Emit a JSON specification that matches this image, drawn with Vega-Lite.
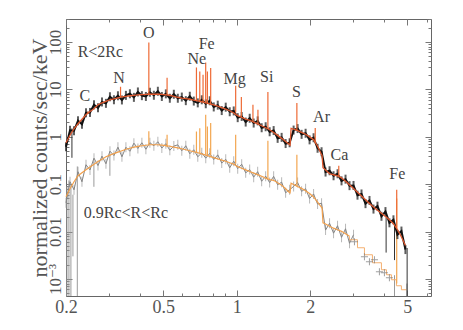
{
  "$schema": "https://vega.github.io/schema/vega-lite/v6.json",
  "width": 365,
  "height": 277,
  "autosize": "none",
  "padding": {"left": 66, "top": 19, "right": 32, "bottom": 34},
  "background": "white",
  "config": {
    "view": {"stroke": "#666", "strokeWidth": 1},
    "font": "Liberation Serif, DejaVu Serif, serif",
    "axis": {"domain": false, "grid": false, "tickColor": "#777", "labelColor": "#555", "labelFont": "Liberation Serif, DejaVu Serif, serif", "titleFont": "Liberation Serif, DejaVu Serif, serif", "labelOverlap": false, "labelFlush": false, "labelBound": false}
  },
  "datasets": {
    "up": [
      {"e":0.2000,"c":0.615},{"e":0.2077,"c":1.371},{"e":0.2157,"c":1.338},{"e":0.2240,"c":2.175},{"e":0.2325,"c":1.835},
      {"e":0.2415,"c":3.209},{"e":0.2508,"c":3.257},{"e":0.2604,"c":4.733},{"e":0.2704,"c":4.091},{"e":0.2808,"c":5.423},
      {"e":0.2915,"c":5.066},{"e":0.3027,"c":6.980},{"e":0.3143,"c":6.033},{"e":0.3264,"c":7.327},{"e":0.3389,"c":5.975},
      {"e":0.3519,"c":7.471},{"e":0.3654,"c":8.075},{"e":0.3794,"c":6.779},{"e":0.3940,"c":8.813},{"e":0.4091,"c":7.363},
      {"e":0.4248,"c":7.082},{"e":0.4411,"c":8.686},{"e":0.4580,"c":7.508},{"e":0.4756,"c":9.118},{"e":0.4938,"c":7.082},
      {"e":0.5128,"c":8.036},{"e":0.5324,"c":6.489},{"e":0.5529,"c":7.881},{"e":0.5741,"c":6.490},{"e":0.5961,"c":6.880},
      {"e":0.6190,"c":5.775},{"e":0.6427,"c":7.152},{"e":0.6674,"c":5.664},{"e":0.6930,"c":5.190},{"e":0.7196,"c":6.034},
      {"e":0.7472,"c":4.968},{"e":0.7759,"c":5.748},{"e":0.8056,"c":4.253},{"e":0.8366,"c":4.642},{"e":0.8687,"c":3.570},
      {"e":0.9020,"c":4.212},{"e":0.9366,"c":3.369},{"e":0.9725,"c":3.502},{"e":1.0098,"c":2.529},{"e":1.0485,"c":2.681},
      {"e":1.0888,"c":2.042},{"e":1.1306,"c":2.456},{"e":1.1740,"c":1.946},{"e":1.2190,"c":2.165},{"e":1.2658,"c":1.549},
      {"e":1.3144,"c":1.626},{"e":1.3648,"c":1.275},{"e":1.4172,"c":1.351},{"e":1.4716,"c":0.925},{"e":1.5281,"c":0.971},
      {"e":1.5867,"c":0.719},{"e":1.6476,"c":0.747},{"e":1.7108,"c":1.385},{"e":1.7765,"c":1.490},{"e":1.8447,"c":1.124},
      {"e":1.9155,"c":1.185},{"e":1.9890,"c":0.860},{"e":2.0653,"c":0.953},{"e":2.1446,"c":0.572},{"e":2.2269,"c":0.483},
      {"e":2.3124,"c":0.180},{"e":2.4011,"c":0.1917},{"e":2.4933,"c":0.1504},{"e":2.5890,"c":0.1658},{"e":2.6883,"c":0.1174},
      {"e":2.7915,"c":0.1275},{"e":2.8986,"c":0.0930},{"e":3.0099,"c":0.0939},{"e":3.1254,"c":0.0586},{"e":3.2453,"c":0.0621},
      {"e":3.3699,"c":0.0388},{"e":3.4992,"c":0.0453},{"e":3.6335,"c":0.0298},{"e":3.7729,"c":0.0343},{"e":3.9177,"c":0.0210},
      {"e":4.0681,"c":0.0264},{"e":4.2242,"c":0.0153},{"e":4.3863,"c":0.0177},{"e":4.5547,"c":0.00864},{"e":4.7295,"c":0.01025},
      {"e":4.9110,"c":0.00417}
    ],
    "lo": [
      {"e":0.2000,"c":0.04051},{"e":0.2077,"c":0.1124},{"e":0.2157,"c":0.07621},{"e":0.2240,"c":0.1827},{"e":0.2325,"c":0.1124},
      {"e":0.2415,"c":0.2567},{"e":0.2508,"c":0.1993},{"e":0.2604,"c":0.3536},{"e":0.2704,"c":0.2469},{"e":0.2808,"c":0.3898},
      {"e":0.2915,"c":0.2695},{"e":0.3027,"c":0.4970},{"e":0.3143,"c":0.4011},{"e":0.3264,"c":0.6033},{"e":0.3389,"c":0.3785},
      {"e":0.3519,"c":0.6004},{"e":0.3654,"c":0.4944},{"e":0.3794,"c":0.7327},{"e":0.3940,"c":0.5663},{"e":0.4091,"c":0.7471},
      {"e":0.4248,"c":0.5448},{"e":0.4411,"c":0.7472},{"e":0.4580,"c":0.6459},{"e":0.4756,"c":0.7844},{"e":0.4938,"c":0.5776},
      {"e":0.5128,"c":0.7153},{"e":0.5324,"c":0.5189},{"e":0.5529,"c":0.6365},{"e":0.5741,"c":0.6746},{"e":0.5961,"c":0.5063},
      {"e":0.6190,"c":0.6459},{"e":0.6427,"c":0.4378},{"e":0.6674,"c":0.5318},{"e":0.6930,"c":0.3784},{"e":0.7196,"c":0.4573},
      {"e":0.7472,"c":0.3537},{"e":0.7759,"c":0.4466},{"e":0.8056,"c":0.3304},{"e":0.8366,"c":0.4151},{"e":0.8687,"c":0.2788},
      {"e":0.9020,"c":0.3353},{"e":0.9366,"c":0.2217},{"e":0.9725,"c":0.3057},{"e":1.0098,"c":0.2122},{"e":1.0485,"c":0.2628},
      {"e":1.0888,"c":0.1731},{"e":1.1306,"c":0.2032},{"e":1.1740,"c":0.1405},{"e":1.2190,"c":0.1835},{"e":1.2658,"c":0.1151},
      {"e":1.3144,"c":0.1476},{"e":1.3648,"c":0.1081},{"e":1.4172,"c":0.1461},{"e":1.4716,"c":0.09709},{"e":1.5281,"c":0.1102},
      {"e":1.5867,"c":0.06586},{"e":1.6476,"c":0.07619},{"e":1.7108,"c":0.08943},{"e":1.7765,"c":0.1086},{"e":1.8447,"c":0.07049},
      {"e":1.9155,"c":0.08036},{"e":1.9890,"c":0.04968},{"e":2.0653,"c":0.06211},{"e":2.1446,"c":0.03804},{"e":2.2269,"c":0.03954},
      {"e":2.3124,"c":0.01075},{"e":2.4011,"c":0.01496},{"e":2.4933,"c":0.009248},{"e":2.5890,"c":0.01325},{"e":2.6883,"c":0.007547},
      {"e":2.7915,"c":0.01146},{"e":2.8986,"c":0.005664},{"e":3.0099,"c":0.008559}
    ],
    "um": [
      {"e":0.2000,"c":0.7469},{"e":0.2077,"c":1.0756},{"e":0.2157,"c":1.4750},{"e":0.2240,"c":1.8804},{"e":0.2325,"c":2.3394},
      {"e":0.2415,"c":2.9119},{"e":0.2508,"c":3.4188},{"e":0.2604,"c":3.8967},{"e":0.2704,"c":4.7325},{"e":0.2808,"c":5.1656},
      {"e":0.2915,"c":5.5828},{"e":0.3027,"c":6.0335},{"e":0.3143,"c":6.3336},{"e":0.3264,"c":6.6484},{"e":0.3389,"c":6.9120},
      {"e":0.3519,"c":7.1164},{"e":0.3654,"c":7.3268},{"e":0.3794,"c":7.4708},{"e":0.3940,"c":7.6175},{"e":0.4091,"c":7.7294},
      {"e":0.4248,"c":7.8049},{"e":0.4411,"c":7.8811},{"e":0.4580,"c":7.8811},{"e":0.4756,"c":7.8811},{"e":0.4938,"c":7.8049},
      {"e":0.5128,"c":7.6545},{"e":0.5324,"c":7.5071},{"e":0.5529,"c":7.1511},{"e":0.5741,"c":6.8129},{"e":0.5961,"c":6.5534},
      {"e":0.6190,"c":6.3644},{"e":0.6427,"c":6.1817},{"e":0.6674,"c":5.9462},{"e":0.6930,"c":5.7195},{"e":0.7196,"c":5.4750},
      {"e":0.7472,"c":5.2153},{"e":0.7759,"c":4.9683},{"e":0.8056,"c":4.6866},{"e":0.8366,"c":4.4215},{"e":0.8687,"c":4.1303},
      {"e":0.9020,"c":3.8218},{"e":0.9366,"c":3.5370},{"e":0.9725,"c":3.1777},{"e":1.0098,"c":2.7874},{"e":1.0485,"c":2.5541},
      {"e":1.0888,"c":2.3627},{"e":1.1306,"c":2.2288},{"e":1.1740,"c":2.0424},{"e":1.2190,"c":1.8713},{"e":1.2658,"c":1.7070},
      {"e":1.3144,"c":1.5484},{"e":1.3648,"c":1.4049},{"e":1.4172,"c":1.2263},{"e":1.4716,"c":1.0704},{"e":1.5281,"c":0.9252},
      {"e":1.5867,"c":0.7920},{"e":1.6476,"c":0.6780},{"e":1.6549,"c":0.6683},{"e":1.6706,"c":1.5113},{"e":1.7108,"c":1.4537},
      {"e":1.7765,"c":1.3516},{"e":1.8447,"c":1.2383},{"e":1.9155,"c":1.1290},{"e":1.9890,"c":0.9952},{"e":2.0653,"c":0.8643},
      {"e":2.1446,"c":0.6302},{"e":2.2269,"c":0.4172},{"e":2.2362,"c":0.4072},{"e":2.2574,"c":0.2218},{"e":2.3124,"c":0.1984},
      {"e":2.4011,"c":0.1657},{"e":2.4933,"c":0.1579},{"e":2.5890,"c":0.1504},{"e":2.6883,"c":0.1358},{"e":2.7915,"c":0.1157},
      {"e":2.8986,"c":0.09760},{"e":3.0099,"c":0.08116},{"e":3.1254,"c":0.06781},{"e":3.2453,"c":0.05637},{"e":3.3699,"c":0.04710},
      {"e":3.4992,"c":0.03915},{"e":3.6335,"c":0.03287},{"e":3.7729,"c":0.02828},{"e":3.9177,"c":0.02432},{"e":4.0681,"c":0.02072},
      {"e":4.2242,"c":0.01774},{"e":4.3863,"c":0.01461},{"e":4.5547,"c":0.01102},{"e":4.7295,"c":0.007656},{"e":4.9110,"c":0.005065}
    ],
    "lm": [
      {"e":0.2000,"c":0.05421},{"e":0.2077,"c":0.07998},{"e":0.2157,"c":0.1124},{"e":0.2240,"c":0.1504},{"e":0.2325,"c":0.1740},
      {"e":0.2415,"c":0.2013},{"e":0.2508,"c":0.2306},{"e":0.2604,"c":0.2642},{"e":0.2704,"c":0.2998},{"e":0.2808,"c":0.3369},
      {"e":0.2915,"c":0.3786},{"e":0.3027,"c":0.4092},{"e":0.3143,"c":0.4420},{"e":0.3264,"c":0.4732},{"e":0.3389,"c":0.5065},
      {"e":0.3519,"c":0.5448},{"e":0.3654,"c":0.5719},{"e":0.3794,"c":0.6033},{"e":0.3940,"c":0.6241},{"e":0.4091,"c":0.6458},
      {"e":0.4248,"c":0.6617},{"e":0.4411,"c":0.6780},{"e":0.4580,"c":0.6780},{"e":0.4756,"c":0.6780},{"e":0.4938,"c":0.6682},
      {"e":0.5128,"c":0.6490},{"e":0.5324,"c":0.6302},{"e":0.5529,"c":0.6063},{"e":0.5741,"c":0.5831},{"e":0.5961,"c":0.5580},
      {"e":0.6190,"c":0.5318},{"e":0.6427,"c":0.5065},{"e":0.6674,"c":0.4825},{"e":0.6930,"c":0.4596},{"e":0.7196,"c":0.4356},
      {"e":0.7472,"c":0.4092},{"e":0.7759,"c":0.3860},{"e":0.8056,"c":0.3641},{"e":0.8366,"c":0.3418},{"e":0.8687,"c":0.3225},
      {"e":0.9020,"c":0.3042},{"e":0.9366,"c":0.2827},{"e":0.9725,"c":0.2642},{"e":1.0098,"c":0.2339},{"e":1.0485,"c":0.2164},
      {"e":1.0888,"c":0.2003},{"e":1.1306,"c":0.1844},{"e":1.1740,"c":0.1706},{"e":1.2190,"c":0.1586},{"e":1.2658,"c":0.1468},
      {"e":1.3144,"c":0.1339},{"e":1.3648,"c":0.1251},{"e":1.4172,"c":0.1203},{"e":1.4716,"c":0.1070},{"e":1.5281,"c":0.09526},
      {"e":1.5867,"c":0.07998},{"e":1.6476,"c":0.06586},{"e":1.6549,"c":0.06522},{"e":1.6706,"c":0.1045},{"e":1.7108,"c":0.09855},
      {"e":1.7765,"c":0.08940},{"e":1.8447,"c":0.08155},{"e":1.9155,"c":0.07292},{"e":1.9890,"c":0.06334},{"e":2.0653,"c":0.05369},
      {"e":2.1446,"c":0.04192},{"e":2.2269,"c":0.03256},{"e":2.2362,"c":0.03178},{"e":2.2574,"c":0.01533},{"e":2.3124,"c":0.01439},
      {"e":2.4011,"c":0.01293},{"e":2.4933,"c":0.01179},{"e":2.5890,"c":0.01091},{"e":2.6883,"c":0.01010},{"e":2.7915,"c":0.008986},
      {"e":2.8986,"c":0.007958}
    ],
    "steps": [
      {"e":2.8986,"c":0.007958},{"e":2.8990,"c":0.006713},{"e":3.1243,"c":0.004551},{"e":3.3367,"c":0.003239},
      {"e":3.5975,"c":0.002197},{"e":3.9162,"c":0.001564},{"e":4.1050,"c":0.001226},{"e":4.3030,"c":0.0009619},
      {"e":4.5104,"c":0.0007188},{"e":4.7276,"c":0.0005918},{"e":4.9550,"c":0.0005918}
    ],
    "crosses": [
      {"e":3.0366,"c":0.006094},{"e":3.3367,"c":0.00294},{"e":3.4977,"c":0.002306},{"e":3.6665,"c":0.002541},
      {"e":3.8427,"c":0.001418},{"e":4.0281,"c":0.001351},{"e":4.2226,"c":0.00106}
    ],
    "su": [
      {"e":0.2459,"c":3.4,"c2":3.1},{"e":0.3345,"c":11.34,"c2":6.85},{"e":0.4368,"c":97.6,"c2":7.88},{"e":0.5188,"c":17.57,"c2":7.6},
      {"e":0.6843,"c":28.97,"c2":5.8},{"e":0.7062,"c":23.86,"c2":5.6},{"e":0.7283,"c":20.32,"c2":5.4},{"e":0.7467,"c":36.94,"c2":5.2},
      {"e":0.7587,"c":23.86,"c2":5.1},{"e":0.7826,"c":28.14,"c2":4.9},{"e":0.9906,"c":11.9,"c2":3.26},{"e":1.0452,"c":6.88,"c2":2.64},
      {"e":1.1659,"c":4.73,"c2":2.07},{"e":1.2221,"c":3.71,"c2":1.85},{"e":1.3424,"c":8.77,"c2":1.45},{"e":1.7642,"c":5.14,"c2":1.34},
      {"e":2.0977,"c":1.526,"c2":0.73},{"e":2.6193,"c":0.2445,"c2":0.145},{"e":4.5232,"c":0.0762,"c2":0.012}
    ],
    "sl": [
      {"e":0.4368,"c":1.3,"c2":0.678},{"e":0.5188,"c":1.1,"c2":0.61},{"e":0.6843,"c":1.29,"c2":0.46},{"e":0.7062,"c":1.52,"c2":0.45},
      {"e":0.7467,"c":2.91,"c2":0.42},{"e":0.7587,"c":1.65,"c2":0.41},{"e":0.7826,"c":1.95,"c2":0.40},{"e":0.9906,"c":1.10,"c2":0.27},
      {"e":1.3424,"c":0.823,"c2":0.13},{"e":1.7642,"c":0.417,"c2":0.088},{"e":4.5232,"c":0.05,"c2":0.0008}
    ],
    "dl": [
      {"e":0.2018,"c":0.09,"c2":0.00001},{"e":0.2056,"c":0.12,"c2":0.00001},{"e":0.2095,"c":0.1,"c2":0.00001},
      {"e":0.2135,"c":0.06,"c2":0.003},{"e":0.2225,"c":0.236,"c2":0.00001},{"e":0.2602,"c":0.3,"c2":0.088},
      {"e":0.3025,"c":0.42,"c2":0.15},{"e":4.43,"c":0.0012,"c2":0.00001},{"e":4.98,"c":0.0008,"c2":0.00001}
    ],
    "du": [
      {"e":0.2115,"c":1.5,"c2":0.36},{"e":4.093,"c":0.02,"c2":0.0036},{"e":4.43,"c":0.014,"c2":0.0025},{"e":4.99,"c":0.0045,"c2":0.00001}
    ],
    "lab": [
      {"e":0.2766,"c":62.1,"t":"R<2Rc"},{"e":0.2391,"c":7.08,"t":"C"},{"e":0.3301,"c":17.31,"t":"N"},{"e":0.437,"c":156,"t":"O"},
      {"e":0.754,"c":91.6,"t":"Fe"},{"e":0.686,"c":44.2,"t":"Ne"},{"e":0.981,"c":16.7,"t":"Mg"},{"e":1.327,"c":18.4,"t":"Si"},
      {"e":1.759,"c":8.9,"t":"S"},{"e":2.226,"c":2.64,"t":"Ar"},{"e":2.637,"c":0.417,"t":"Ca"},{"e":4.55,"c":0.166,"t":"Fe"},
      {"e":0.3517,"c":0.02492,"t":"0.9Rc<R<Rc"}
    ]
  },
  "resolve": {"axis": {"x": "independent", "y": "independent"}},
  "layer": [
    {
      "data": {"name": "lo"},
      "mark": {"type": "tick", "orient": "vertical", "size": 10, "thickness": 1, "color": "#9a9a9a"},
      "encoding": {
        "x": {"field": "e", "type": "quantitative", "scale": {"type": "log", "domain": [0.2, 6.25], "nice": false},
          "axis": {"orient": "top", "title": null, "labels": false, "values": [0.2,0.3,0.4,0.5,0.6,0.7,0.8,0.9,1,2,3,4,5,6],
            "tickSize": {"condition": {"test": "indexof([0.2,0.5,1,2,5], datum.value) >= 0", "value": -6}, "value": -3}}},
        "y": {"field": "c", "type": "quantitative", "scale": {"type": "log", "domain": [0.000437, 305], "nice": false},
          "axis": {"orient": "right", "title": null, "labels": false,
            "values": [0.0005,0.0006,0.0007,0.0008,0.0009,0.001,0.002,0.003,0.004,0.005,0.006,0.007,0.008,0.009,0.01,0.02,0.03,0.04,0.05,0.06,0.07,0.08,0.09,0.1,0.2,0.3,0.4,0.5,0.6,0.7,0.8,0.9,1,2,3,4,5,6,7,8,9,10,20,30,40,50,60,70,80,90,100,200,300],
            "tickSize": {"condition": {"test": "indexof([0.001,0.01,0.1,1,10,100], datum.value) >= 0", "value": -6}, "value": -3}}}
      }
    },
    {
      "data": {"name": "dl"},
      "mark": {"type": "rule", "color": "#9a9a9a", "strokeWidth": 1, "clip": true},
      "encoding": {
        "x": {"field": "e", "type": "quantitative", "scale": {"type": "log", "domain": [0.2, 6.25], "nice": false}, "axis": null},
        "y": {"field": "c", "type": "quantitative", "scale": {"type": "log", "domain": [0.000437, 305], "nice": false}, "axis": null},
        "y2": {"field": "c2"}
      }
    },
    {
      "data": {"name": "lo"},
      "mark": {"type": "line", "color": "#858585", "strokeWidth": 1},
      "encoding": {
        "x": {"field": "e", "type": "quantitative", "scale": {"type": "log", "domain": [0.2, 6.25], "nice": false}, "axis": null},
        "y": {"field": "c", "type": "quantitative", "scale": {"type": "log", "domain": [0.000437, 305], "nice": false}, "axis": null}
      }
    },
    {
      "data": {"name": "lm"},
      "mark": {"type": "line", "color": "#f2a04c", "strokeWidth": 1.2},
      "encoding": {
        "x": {"field": "e", "type": "quantitative", "scale": {"type": "log", "domain": [0.2, 6.25], "nice": false}, "axis": null},
        "y": {"field": "c", "type": "quantitative", "scale": {"type": "log", "domain": [0.000437, 305], "nice": false}, "axis": null}
      }
    },
    {
      "data": {"name": "steps"},
      "mark": {"type": "line", "color": "#f5b070", "strokeWidth": 1, "interpolate": "step-after"},
      "encoding": {
        "x": {"field": "e", "type": "quantitative", "scale": {"type": "log", "domain": [0.2, 6.25], "nice": false}, "axis": null},
        "y": {"field": "c", "type": "quantitative", "scale": {"type": "log", "domain": [0.000437, 305], "nice": false}, "axis": null}
      }
    },
    {
      "data": {"name": "crosses"},
      "mark": {"type": "point", "shape": "M-1,0H1M0,-1V1", "size": 50, "filled": false, "stroke": "#777", "strokeWidth": 1},
      "encoding": {
        "x": {"field": "e", "type": "quantitative", "scale": {"type": "log", "domain": [0.2, 6.25], "nice": false}, "axis": null},
        "y": {"field": "c", "type": "quantitative", "scale": {"type": "log", "domain": [0.000437, 305], "nice": false}, "axis": null}
      }
    },
    {
      "data": {"name": "sl"},
      "mark": {"type": "rule", "color": "#f3a650", "strokeWidth": 1.2},
      "encoding": {
        "x": {"field": "e", "type": "quantitative", "scale": {"type": "log", "domain": [0.2, 6.25], "nice": false}, "axis": null},
        "y": {"field": "c", "type": "quantitative", "scale": {"type": "log", "domain": [0.000437, 305], "nice": false}, "axis": null},
        "y2": {"field": "c2"}
      }
    },
    {
      "data": {"name": "up"},
      "mark": {"type": "tick", "orient": "vertical", "size": 9, "thickness": 2, "color": "#1a1a1a"},
      "encoding": {
        "x": {"field": "e", "type": "quantitative", "scale": {"type": "log", "domain": [0.2, 6.25], "nice": false},
          "axis": {"orient": "bottom", "title": null, "values": [0.2,0.3,0.4,0.5,0.6,0.7,0.8,0.9,1,2,3,4,5,6],
            "labelExpr": "indexof([0.2,0.5,1,2,5], datum.value) >= 0 ? datum.value + '' : ''",
            "labelFontSize": 18, "labelPadding": 8,
            "tickSize": {"condition": {"test": "indexof([0.2,0.5,1,2,5], datum.value) >= 0", "value": -6}, "value": -3}}},
        "y": {"field": "c", "type": "quantitative", "scale": {"type": "log", "domain": [0.000437, 305], "nice": false},
          "axis": {"orient": "left", "title": "normalized counts/sec/keV", "titleFontSize": 22, "titleFontWeight": "normal", "titleColor": "#555", "titlePadding": -8,
            "values": [0.0005,0.0006,0.0007,0.0008,0.0009,0.001,0.002,0.003,0.004,0.005,0.006,0.007,0.008,0.009,0.01,0.02,0.03,0.04,0.05,0.06,0.07,0.08,0.09,0.1,0.2,0.3,0.4,0.5,0.6,0.7,0.8,0.9,1,2,3,4,5,6,7,8,9,10,20,30,40,50,60,70,80,90,100,200,300],
            "labelExpr": "datum.value == 0.001 ? '10⁻³' : (indexof([0.01,0.1,1,10,100], datum.value) >= 0 ? datum.value + '' : '')",
            "labelAngle": -90, "labelFontSize": 17, "labelPadding": 8,
            "tickSize": {"condition": {"test": "indexof([0.001,0.01,0.1,1,10,100], datum.value) >= 0", "value": -6}, "value": -3}}}
      }
    },
    {
      "data": {"name": "du"},
      "mark": {"type": "rule", "color": "#333", "strokeWidth": 1, "clip": true},
      "encoding": {
        "x": {"field": "e", "type": "quantitative", "scale": {"type": "log", "domain": [0.2, 6.25], "nice": false}, "axis": null},
        "y": {"field": "c", "type": "quantitative", "scale": {"type": "log", "domain": [0.000437, 305], "nice": false}, "axis": null},
        "y2": {"field": "c2"}
      }
    },
    {
      "data": {"name": "up"},
      "mark": {"type": "line", "color": "#111", "strokeWidth": 2},
      "encoding": {
        "x": {"field": "e", "type": "quantitative", "scale": {"type": "log", "domain": [0.2, 6.25], "nice": false}, "axis": null},
        "y": {"field": "c", "type": "quantitative", "scale": {"type": "log", "domain": [0.000437, 305], "nice": false}, "axis": null}
      }
    },
    {
      "data": {"name": "um"},
      "mark": {"type": "line", "color": "#e0582e", "strokeWidth": 1.3},
      "encoding": {
        "x": {"field": "e", "type": "quantitative", "scale": {"type": "log", "domain": [0.2, 6.25], "nice": false}, "axis": null},
        "y": {"field": "c", "type": "quantitative", "scale": {"type": "log", "domain": [0.000437, 305], "nice": false}, "axis": null}
      }
    },
    {
      "data": {"name": "su"},
      "mark": {"type": "rule", "color": "#ee6a35", "strokeWidth": 1.2},
      "encoding": {
        "x": {"field": "e", "type": "quantitative", "scale": {"type": "log", "domain": [0.2, 6.25], "nice": false}, "axis": null},
        "y": {"field": "c", "type": "quantitative", "scale": {"type": "log", "domain": [0.000437, 305], "nice": false}, "axis": null},
        "y2": {"field": "c2"}
      }
    },
    {
      "data": {"name": "lab"},
      "mark": {"type": "text", "font": "Liberation Serif, DejaVu Serif, serif", "fontSize": 16, "color": "#444", "align": "center", "baseline": "middle"},
      "encoding": {
        "x": {"field": "e", "type": "quantitative", "scale": {"type": "log", "domain": [0.2, 6.25], "nice": false}, "axis": null},
        "y": {"field": "c", "type": "quantitative", "scale": {"type": "log", "domain": [0.000437, 305], "nice": false}, "axis": null},
        "text": {"field": "t"}
      }
    }
  ]
}
